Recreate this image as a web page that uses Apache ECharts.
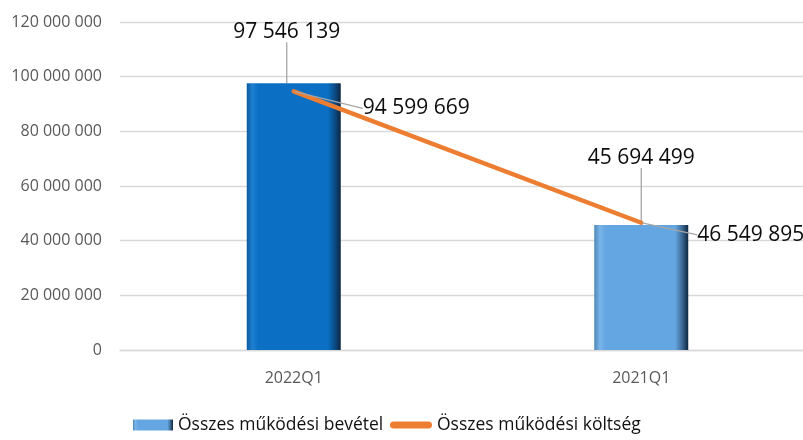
<!DOCTYPE html>
<html>
<head>
<meta charset="utf-8">
<script src="https://cdn.jsdelivr.net/npm/echarts@6/dist/echarts.min.js"></script>
<style>html,body{margin:0;padding:0;background:#fff;overflow:hidden;width:803px;height:440px}#c{width:815px;height:440px}</style>
</head>
<body>
<div id="c"></div>
<script>
const categories = ['2022Q1', '2021Q1'];
const revenueName = 'Összes működési bevétel';
const costName = 'Összes működési költség';
const revenue = [97546139, 45694499];
const cost = [94599669, 46549895];
const yTicks = [0, 20000000, 40000000, 60000000, 80000000, 100000000, 120000000];

const fmt = v => String(Math.round(v)).replace(/\B(?=(\d{3})+(?!\d))/g, ' ');
const FONT = 'Open Sans';

function bevel(edge, light, main, dark) {
  return new echarts.graphic.LinearGradient(0, 0, 1, 0, [
    {offset: 0, color: edge},
    {offset: 0.06, color: light},
    {offset: 0.12, color: main},
    {offset: 0.86, color: main},
    {offset: 0.93, color: dark},
    {offset: 1, color: '#0d2640'}
  ]);
}
const darkBlue = bevel('#0a5a9e', '#1f7fd0', '#0b70c4', '#0a4f8c');
const lightBlue = bevel('#4f86b8', '#7ab5e8', '#64a6e2', '#3f6e99');

const barLabelOffsets = [[-7, -36], [0, -52]];
const lineLabelOffsets = [[63, 17], [50, 12]];

const chart = echarts.init(document.getElementById('c'));
chart.setOption({
  animation: false,
  grid: {left: 120, right: 0, top: 22, bottom: 90},
  xAxis: {
    type: 'category',
    data: categories,
    axisLine: {lineStyle: {color: '#d9d9d9', width: 1.3}},
    axisTick: {show: false},
    axisLabel: {color: '#595959', fontFamily: FONT, fontSize: 16, margin: 20}
  },
  yAxis: {
    type: 'value',
    min: yTicks[0],
    max: yTicks[yTicks.length - 1],
    interval: yTicks[1] - yTicks[0],
    axisLine: {show: false},
    axisTick: {show: false},
    splitLine: {lineStyle: {color: '#d9d9d9', width: 1.3}},
    axisLabel: {color: '#595959', fontFamily: FONT, fontSize: 16, margin: 18, formatter: fmt}
  },
  legend: [
    {
      left: 133, top: 416, padding: 0, itemWidth: 40, itemHeight: 11,
      data: [{name: revenueName, icon: 'rect'}],
      textStyle: {color: '#111', fontFamily: FONT, fontSize: 17.5}
    },
    {
      left: 390, top: 416, padding: 0, itemWidth: 42, itemHeight: 7,
      data: [{name: costName, icon: 'path://M3.5,0 L38.5,0 A3.5,3.5 0 0 1 38.5,7 L3.5,7 A3.5,3.5 0 0 1 3.5,0 Z', itemStyle: {color: '#ed7d31'}}],
      textStyle: {color: '#111', fontFamily: FONT, fontSize: 17.5}
    }
  ],
  series: [
    {
      name: revenueName,
      type: 'bar',
      barWidth: 94,
      itemStyle: {color: lightBlue},
      data: revenue.map((v, i) => i === 0 ? {value: v, itemStyle: {color: darkBlue}} : v),
      label: {
        show: true, position: 'top', formatter: p => fmt(p.value),
        color: '#0d0d0d', fontFamily: FONT, fontSize: 21
      },
      labelLine: {show: true, lineStyle: {color: '#a6a6a6', width: 1.3}},
      labelLayout: p => ({dx: barLabelOffsets[p.dataIndex][0], dy: barLabelOffsets[p.dataIndex][1]}),
      z: 2
    },
    {
      name: costName,
      type: 'line',
      data: cost,
      symbol: 'circle',
      symbolSize: 2,
      itemStyle: {color: '#ed7d31'},
      lineStyle: {color: '#ed7d31', width: 4.5, cap: 'round'},
      label: {
        show: true, position: 'right', formatter: p => fmt(p.value),
        color: '#0d0d0d', fontFamily: FONT, fontSize: 21
      },
      labelLine: {show: true, lineStyle: {color: '#a6a6a6', width: 1.3}},
      labelLayout: p => ({dx: lineLabelOffsets[p.dataIndex][0], dy: lineLabelOffsets[p.dataIndex][1]}),
      z: 3
    }
  ]
});
</script>
</body>
</html>
